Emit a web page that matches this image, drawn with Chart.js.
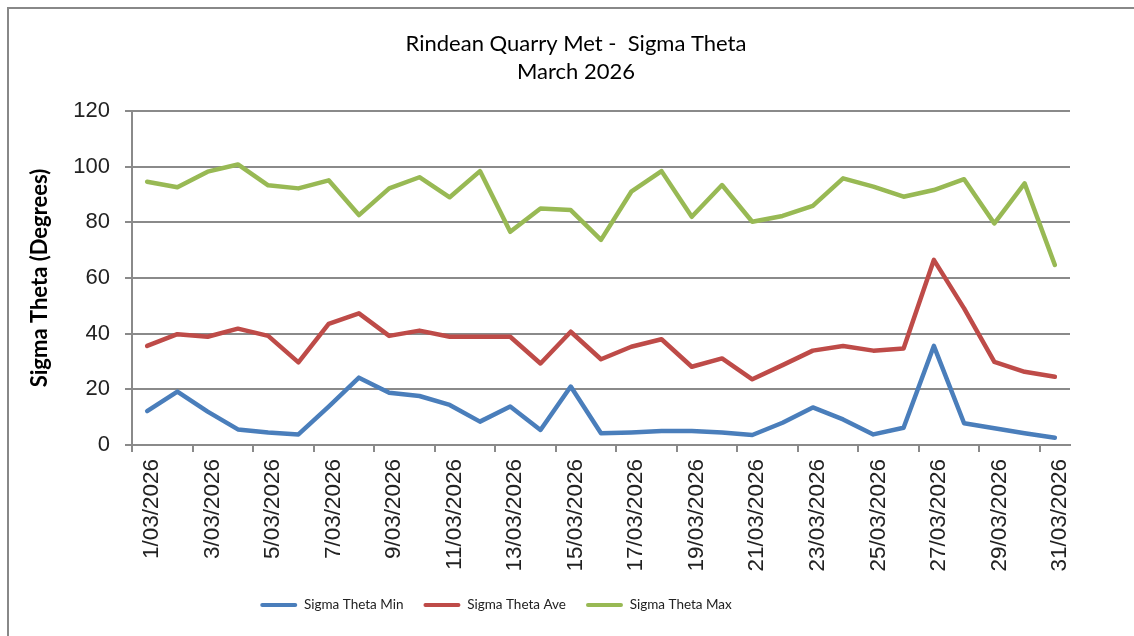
<!DOCTYPE html>
<html>
<head>
<meta charset="utf-8">
<script src="https://cdn.jsdelivr.net/npm/chart.js@4/dist/chart.umd.min.js"></script>
<style>
  html, body { margin: 0; padding: 0; background: #fff; }
  #wrap { position: relative; width: 1134px; height: 636px; }
</style>
</head>
<body>
<div id="wrap"><canvas id="c" width="1134" height="636"></canvas></div>
<script>
const dates = ['1/03/2026','2/03/2026','3/03/2026','4/03/2026','5/03/2026','6/03/2026','7/03/2026','8/03/2026','9/03/2026','10/03/2026',
  '11/03/2026','12/03/2026','13/03/2026','14/03/2026','15/03/2026','16/03/2026','17/03/2026','18/03/2026','19/03/2026','20/03/2026',
  '21/03/2026','22/03/2026','23/03/2026','24/03/2026','25/03/2026','26/03/2026','27/03/2026','28/03/2026','29/03/2026','30/03/2026','31/03/2026'];
const sigmaMin = [12.2,19.2,12.0,5.6,4.5,3.8,13.8,24.2,18.8,17.6,14.4,8.4,13.8,5.4,21.0,4.2,4.5,5.0,5.0,4.5,3.6,8.0,13.5,9.2,3.8,6.2,35.6,7.8,6.0,4.2,2.6];
const sigmaAve = [35.6,39.8,38.9,41.8,39.2,29.7,43.5,47.3,39.2,41.1,38.9,38.9,38.9,29.3,40.7,30.8,35.3,38.0,28.1,31.1,23.6,28.7,33.9,35.6,33.9,34.7,66.5,49.1,29.9,26.3,24.5];
const sigmaMax = [94.6,92.6,98.2,100.8,93.3,92.2,95.1,82.6,92.2,96.2,89.0,98.4,76.6,85.0,84.4,73.7,91.0,98.4,82.0,93.4,80.2,82.3,85.9,95.8,92.8,89.2,91.6,95.5,79.6,94.0,64.7];
const seriesNames = ['Sigma Theta Min','Sigma Theta Ave','Sigma Theta Max'];
const titleLines = ['Rindean Quarry Met -  Sigma Theta','March 2026'];
const yTitle = 'Sigma Theta (Degrees)';

const colors = ['#4a7ebb','#be4b48','#98b954'];
const gridGray = '#8a8a8a';

const framePlugin = {
  id: 'frame',
  beforeDraw(chart) {
    const ctx = chart.ctx;
    ctx.save();
    ctx.fillStyle = '#fff';
    ctx.fillRect(0, 0, chart.width, chart.height);
    ctx.strokeStyle = '#888';
    ctx.lineWidth = 2;
    ctx.beginPath();
    ctx.moveTo(8, 636);
    ctx.lineTo(8, 8);
    ctx.lineTo(1134, 8);
    ctx.stroke();
    ctx.restore();
  },
  afterLayout(chart) {
    if (chart.legend) { chart.legend.left = 0; chart.legend.right = 992; }
    if (chart.titleBlock) { chart.titleBlock.left = 18; chart.titleBlock.right = 1134; }
  }
};

const mk = (label, data, color) => ({
  label, data,
  borderColor: color, backgroundColor: color,
  borderWidth: 4.5, pointRadius: 0, pointHoverRadius: 0,
  tension: 0, fill: false,
  borderJoinStyle: 'round', borderCapStyle: 'round'
});

new Chart(document.getElementById('c'), {
  type: 'line',
  data: {
    labels: dates,
    datasets: [
      mk(seriesNames[0], sigmaMin, colors[0]),
      mk(seriesNames[1], sigmaAve, colors[1]),
      mk(seriesNames[2], sigmaMax, colors[2])
    ]
  },
  options: {
    responsive: false,
    animation: false,
    layout: { padding: { left: 0, right: 64, top: 0, bottom: 14.25 } },
    plugins: {
      tooltip: { enabled: false },
      title: {
        display: true,
        text: titleLines,
        color: '#000',
        font: { family: 'Lato', size: 22, weight: 'normal', lineHeight: 1.2727 },
        padding: { top: 30, bottom: 25 }
      },
      legend: {
        position: 'bottom',
        labels: {
          color: '#222',
          font: { family: 'Lato', size: 13.5 },
          boxWidth: 37, boxHeight: 4, padding: 20,
          useBorderRadius: true, borderRadius: 2,
          generateLabels(chart) {
            return Chart.defaults.plugins.legend.labels.generateLabels(chart).map(l => {
              l.lineWidth = 0; l.strokeStyle = l.fillStyle; return l;
            });
          }
        }
      }
    },
    scales: {
      x: {
        type: 'category',
        offset: true,
        grid: {
          offset: true,
          drawOnChartArea: false,
          tickLength: 7,
          lineWidth: 2,
          color: (ctx) => (ctx.index % 2 === 0 ? gridGray : 'rgba(0,0,0,0)')
        },
        border: { color: gridGray, width: 2 },
        ticks: {
          autoSkip: false,
          minRotation: 90, maxRotation: 90,
          padding: 7,
          labelOffset: 5,
          color: '#222',
          font: { family: 'Liberation Sans', size: 22.5 },
          callback: (v, i) => (i % 2 === 0 ? dates[i] : '')
        },
        afterFit(scale) { scale.height = 133.25; }
      },
      y: {
        min: 0, max: 120,
        grid: { color: gridGray, lineWidth: 2, tickLength: 7 },
        border: { color: gridGray, width: 2 },
        ticks: {
          stepSize: 20,
          padding: 15,
          color: '#222',
          font: { family: 'Liberation Sans', size: 22 }
        },
        title: {
          display: true,
          text: yTitle,
          color: '#000',
          font: { family: 'Lato', size: 22, weight: 'bold' },
          padding: { top: 26.8, bottom: 0 }
        },
        afterFit(scale) { scale.width = 132; }
      }
    }
  },
  plugins: [framePlugin]
});
</script>
</body>
</html>
